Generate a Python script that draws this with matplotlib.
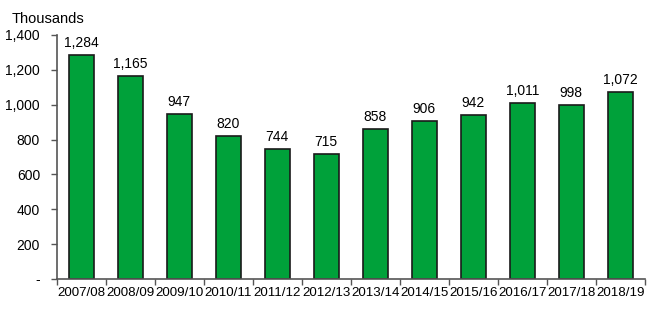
import matplotlib
matplotlib.use('Agg')
import matplotlib.pyplot as plt
import numpy as np

# data
years = ['2007/08', '2008/09', '2009/10', '2010/11', '2011/12', '2012/13',
         '2013/14', '2014/15', '2015/16', '2016/17', '2017/18', '2018/19']
values = [1284, 1165, 947, 820, 744, 715, 858, 906, 942, 1011, 998, 1072]
yticks = [0, 200, 400, 600, 800, 1000, 1200, 1400]
ytick_labels = ['-', '200', '400', '600', '800', '1,000', '1,200', '1,400']

plt.rcParams['font.family'] = ['Liberation Sans', 'DejaVu Sans']

fig = plt.figure(figsize=(6.6, 3.12), dpi=100)
ax = fig.add_axes([0.086, 0.106, 0.891, 0.782])

x = np.arange(len(years))
ax.bar(x, values, width=0.5, color='#00A13A', edgecolor='#1a1a1a', linewidth=1.2)

for xi, v in zip(x, values):
    ax.text(xi, v + 30, f'{v:,}', ha='center', va='bottom', fontsize=10)

ax.set_xlim(-0.5, len(years) - 0.5)
ax.set_ylim(0, 1400)
ax.set_yticks(yticks)
ax.set_yticklabels(ytick_labels, fontsize=10)
ax.set_xticks(x)
ax.set_xticklabels(years, fontsize=9.6)
ax.tick_params(axis='x', which='major', length=0, pad=6)
ax.set_xticks(np.arange(-0.5, len(years), 1), minor=True)
ax.tick_params(axis='x', which='minor', length=4, width=1, color='#555555')
ax.tick_params(axis='y', length=4, width=1, color='#555555', pad=8)

for s in ['top', 'right']:
    ax.spines[s].set_visible(False)
for s in ['left', 'bottom']:
    ax.spines[s].set_color('#555555')
    ax.spines[s].set_linewidth(1.2)

fig.text(0.018, 0.94, 'Thousands', fontsize=10.5, ha='left', va='center')

fig.savefig('out.png', dpi=100)
